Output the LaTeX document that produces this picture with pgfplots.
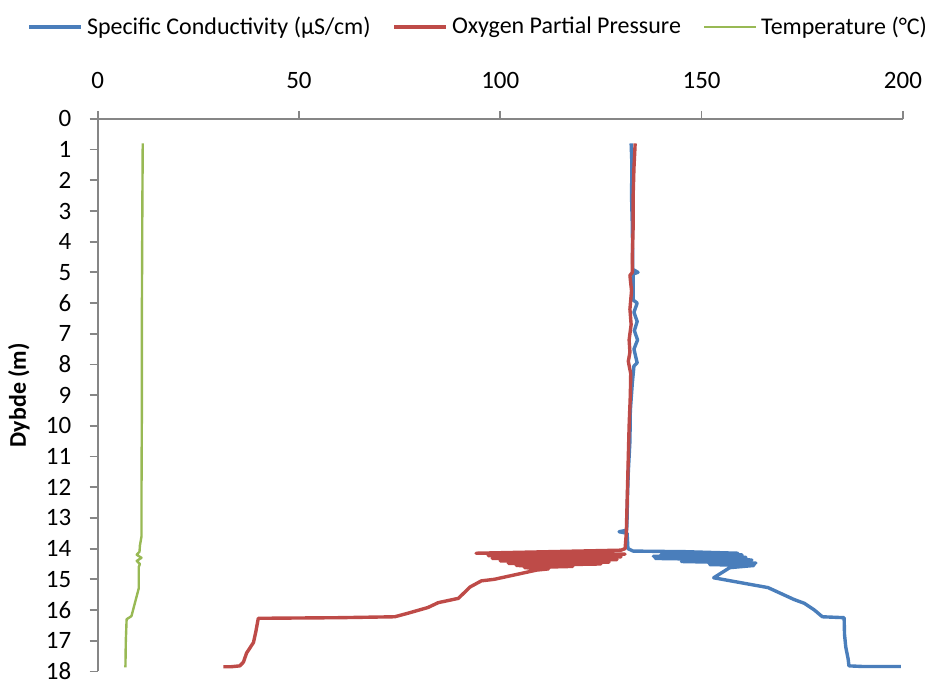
\documentclass[border=0pt]{standalone}
\usepackage{fontspec}
\setmainfont{Carlito}
\usepackage{pgfplots}
\pgfplotsset{compat=1.18}
\definecolor{cond}{HTML}{4A7EBB}
\definecolor{oxy}{HTML}{BE4B48}
\definecolor{temp}{HTML}{98B954}
\definecolor{axgray}{HTML}{868686}
\begin{document}
\fontsize{12}{14}\selectfont
\begin{tikzpicture}
\begin{axis}[
    scale only axis,
    width=403pt, height=276.5pt,
    xmin=0, xmax=200, ymin=0, ymax=18,
    y dir=reverse,
    axis x line*=top, axis y line*=left,
    axis line style={axgray, line width=0.9pt},
    every tick/.style={axgray, line width=0.9pt},
    tick align=outside, major tick length=4pt,
    xtick={0,50,...,200}, ytick={0,1,...,18},
    xticklabel style={yshift=7pt},
    yticklabel style={xshift=-5pt},
    /pgf/number format/assume math mode=true,
    ticklabel style={font=\fontsize{12.5}{14}\selectfont},
    ylabel={\textbf{Dybde (m)}},
    ylabel style={font=\fontsize{12}{14}\selectfont},
    legend columns=3,
    legend style={draw=none, at={(0.474,1.166)}, anchor=center,
        inner xsep=0pt,
        font=\fontsize{12}{14}\selectfont,
        /tikz/every even column/.append style={column sep=9pt}},
    legend cell align=left,
    legend image code/.code={\draw[#1] (0pt,0pt) -- (26pt,0pt);},
    line join=round,
]
\addplot[cond, line width=1.7pt] coordinates {
(132.5,0.8) (132.7,1.5) (132.6,2.5) (132.8,3.5) (132.9,4.9) (134.2,5.0)
(133.0,5.05) (133.0,5.9) (134.0,6.0) (133.2,6.3) (134.0,6.6) (133.3,6.9)
(134.1,7.2) (133.2,7.5) (134.0,7.95) (133.2,8.05) (132.8,8.6) (132.3,9.5)
(132.2,10.5) (131.8,11.5) (131.6,12.3) (131.5,13.0) (131.4,13.4) (129.5,13.45)
(131.5,13.5) (131.7,14.0) (133,14.08) (146,14.1) (159,14.15) (140,14.18)
(160,14.2) (138,14.25) (161,14.28) (138.5,14.32) (162.5,14.37) (145,14.42)
(163.5,14.47) (152,14.52) (163,14.55) (157,14.62) (153,14.95) (166.5,15.27)
(173,15.66) (175.5,15.78) (178,16.0) (180,16.22) (185.4,16.25) (185.5,16.8)
(185.8,17.2) (186.4,17.6) (186.6,17.82) (190,17.84) (199.5,17.84)
};
\addlegendentry{Specific Conductivity (µS/cm)}
\addplot[oxy, line width=1.7pt] coordinates {
(133.5,0.8) (133.2,1.6) (133.0,2.5) (133.0,3.5) (132.8,4.5) (132.8,5.0)
(132.2,5.1) (132.6,5.6) (132.2,6.2) (132.5,6.7) (132.0,7.2) (132.2,7.6)
(131.8,7.9) (132.4,8.3) (132.3,9.0) (132.0,10.0) (131.8,11.0) (131.6,12.0)
(131.4,13.0) (131.3,13.5) (131.0,14.0) (130,14.05) (94,14.15) (131,14.18)
(97,14.23) (130,14.27) (98,14.32) (129,14.36) (100,14.4) (127,14.44)
(102,14.48) (125,14.5) (104,14.55) (118,14.58) (106,14.62) (112,14.66)
(109,14.7) (98.5,15.0) (95.3,15.05) (92.5,15.25) (89.6,15.62) (84.6,15.76)
(82,15.92) (77.2,16.1) (73.8,16.22) (60,16.25) (50,16.26) (39.9,16.27)
(39.3,16.7) (38.7,17.06) (37,17.4) (36.2,17.7) (35.3,17.82) (33,17.85)
(31.2,17.85)
};
\addlegendentry{Oxygen Partial Pressure}
\addplot[temp, line width=1.2pt] coordinates {
(11.2,0.8) (11.1,3) (11.0,6) (11.0,9) (10.9,12) (10.9,13.6) (10.5,13.9)
(10.4,14.1) (9.7,14.2) (10.9,14.3) (9.7,14.4) (10.5,14.5) (10.2,14.6)
(10.2,15.3) (8.9,15.95) (8.4,16.2) (7.2,16.3) (7.0,17.0) (6.9,17.87)
};
\addlegendentry{Temperature (°C)}
\end{axis}
% keep the blank band above the legend, as in the reference
\path ([yshift=59.5pt]current axis.north west);
\end{tikzpicture}
\end{document}
